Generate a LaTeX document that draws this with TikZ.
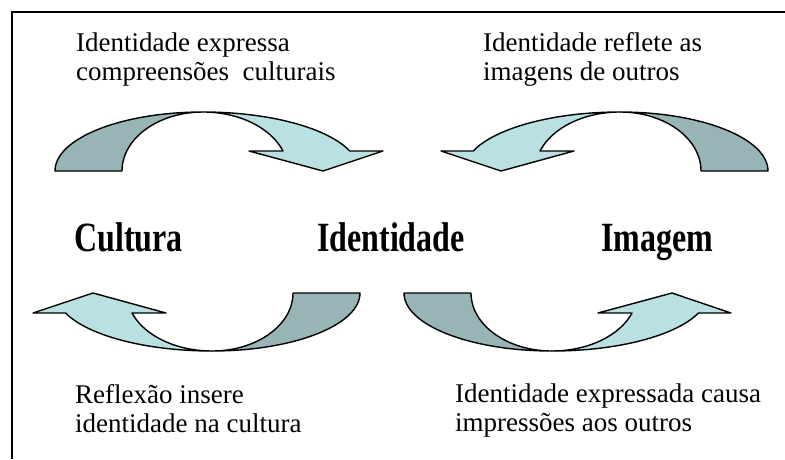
\documentclass[tikz,border=0pt]{standalone}
\usepackage{fontspec}
\setmainfont{Liberation Serif}
\definecolor{darkrib}{HTML}{97B4B6}
\definecolor{lightrib}{HTML}{B9E0E3}
\begin{document}
\begin{tikzpicture}[x=1pt,y=-1pt,
  ribbon/.style={draw=black,line width=1.4pt,line join=round},
  darkpart/.style={ribbon,fill=darkrib},
  lightpart/.style={ribbon,fill=lightrib},
  note/.style={font=\fontsize{27}{29}\selectfont,align=left,anchor=north west,inner sep=0pt},
  term/.style={font=\fontsize{32}{34}\selectfont\bfseries,anchor=base,inner sep=0pt}]
\useasboundingbox (0,0) rectangle (785,459);
\fill[white] (0,0) rectangle (785,459);
\draw[line width=2pt] (12,459) -- (12,12) -- (785,12);

% top-left arrow (center 203,171)
\draw[darkpart] (55,171) arc[start angle=180,end angle=270,x radius=148,y radius=59]
  arc[start angle=270,end angle=180,x radius=81,y radius=59] -- cycle;
\draw[lightpart] (203,112) arc[start angle=270,end angle=340.2,x radius=156,y radius=59]
  -- (383,151) -- (323,171) -- (249,151) -- (283,151)
  arc[start angle=340.2,end angle=270,x radius=85,y radius=59] -- cycle;

% top-right arrow (center 620,171)
\draw[darkpart] (768,171) arc[start angle=360,end angle=270,x radius=148,y radius=59]
  arc[start angle=270,end angle=360,x radius=81,y radius=59] -- cycle;
\draw[lightpart] (620,112) arc[start angle=270,end angle=199.8,x radius=156,y radius=59]
  -- (441,151) -- (501,171) -- (574,151) -- (540,151)
  arc[start angle=199.8,end angle=270,x radius=85,y radius=59] -- cycle;

% bottom-left arrow (center 212,293)
\draw[darkpart] (360,293) arc[start angle=0,end angle=90,x radius=148,y radius=58]
  arc[start angle=90,end angle=0,x radius=81,y radius=58] -- cycle;
\draw[lightpart] (212,351) arc[start angle=90,end angle=159.8,x radius=156,y radius=58]
  -- (33,313) -- (93,293) -- (166,313) -- (132,313)
  arc[start angle=159.8,end angle=90,x radius=85,y radius=58] -- cycle;

% bottom-right arrow (center 552,293)
\draw[darkpart] (404,293) arc[start angle=180,end angle=90,x radius=148,y radius=58]
  arc[start angle=90,end angle=180,x radius=81,y radius=58] -- cycle;
\draw[lightpart] (552,351) arc[start angle=90,end angle=20.2,x radius=156,y radius=58]
  -- (731,313) -- (672,293) -- (598,313) -- (632,313)
  arc[start angle=20.2,end angle=90,x radius=85,y radius=58] -- cycle;

\node[term] (cultura) at (128.6,251) {\scalebox{1}[1.3]{Cultura}};
\node[term] (identidade) at (391,251) {\scalebox{1}[1.3]{Identidade}};
\node[term] (imagem) at (657.5,251) {\scalebox{1}[1.3]{Imagem}};

\node[note] (tl) at (76,32.5) {Identidade expressa\\compreensões\ \ culturais};
\node[note] (tr) at (483,32.5) {Identidade reflete as\\imagens de outros};
\node[note] (bl) at (75,384) {Reflexão insere\\identidade na cultura};
\node[note] (br) at (455,384) {Identidade expressada causa\\impressões aos outros};
\end{tikzpicture}
\end{document}
